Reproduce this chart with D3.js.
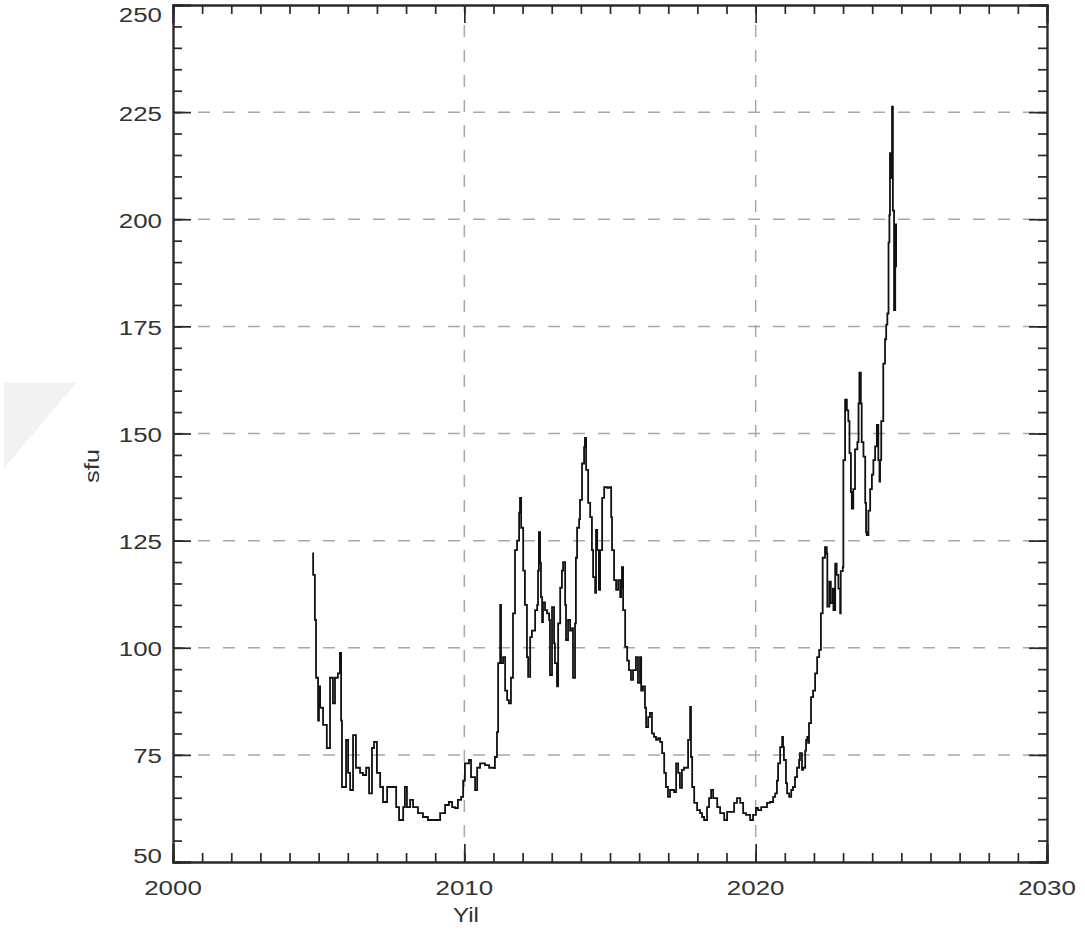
<!DOCTYPE html>
<html><head><meta charset="utf-8">
<script src="https://cdn.jsdelivr.net/npm/d3@7/dist/d3.min.js"></script>
<style>body{margin:0;background:#fff}svg{display:block}</style></head>
<body><svg id="c" width="1085" height="935"></svg>
<script>
const years = [2004.78,2004.81,2004.87,2004.91,2004.98,2005.01,2005.05,2005.15,2005.28,2005.39,2005.49,2005.56,2005.66,2005.73,2005.77,2005.80,2005.94,2006.01,2006.08,2006.18,2006.28,2006.42,2006.52,2006.63,2006.73,2006.83,2006.90,2007.00,2007.11,2007.21,2007.35,2007.48,2007.66,2007.76,2007.90,2007.96,2008.03,2008.14,2008.24,2008.41,2008.58,2008.75,2008.99,2009.17,2009.34,2009.47,2009.58,2009.68,2009.78,2009.89,2009.96,2010.02,2010.16,2010.23,2010.37,2010.44,2010.54,2010.71,2010.85,2011.02,2011.05,2011.12,2011.16,2011.23,2011.26,2011.33,2011.40,2011.47,2011.53,2011.60,2011.67,2011.74,2011.81,2011.88,2011.91,2011.95,2012.02,2012.08,2012.15,2012.19,2012.26,2012.32,2012.43,2012.50,2012.53,2012.56,2012.60,2012.63,2012.67,2012.70,2012.77,2012.84,2012.91,2012.94,2013.01,2013.08,2013.11,2013.18,2013.22,2013.29,2013.35,2013.39,2013.46,2013.49,2013.56,2013.63,2013.70,2013.73,2013.80,2013.83,2013.87,2013.94,2013.97,2014.04,2014.11,2014.14,2014.18,2014.25,2014.32,2014.38,2014.42,2014.49,2014.52,2014.56,2014.62,2014.66,2014.73,2014.80,2014.90,2014.97,2015.04,2015.07,2015.14,2015.21,2015.28,2015.35,2015.38,2015.41,2015.45,2015.52,2015.59,2015.65,2015.72,2015.79,2015.89,2015.96,2016.03,2016.07,2016.13,2016.20,2016.24,2016.31,2016.37,2016.44,2016.51,2016.58,2016.65,2016.72,2016.79,2016.86,2016.92,2016.99,2017.06,2017.13,2017.20,2017.27,2017.34,2017.40,2017.47,2017.54,2017.61,2017.68,2017.75,2017.78,2017.82,2017.89,2017.99,2018.09,2018.16,2018.23,2018.33,2018.40,2018.47,2018.54,2018.68,2018.78,2018.92,2019.02,2019.16,2019.26,2019.36,2019.47,2019.57,2019.67,2019.81,2019.91,2020.01,2020.08,2020.19,2020.29,2020.39,2020.49,2020.60,2020.67,2020.73,2020.77,2020.84,2020.91,2020.94,2020.97,2021.04,2021.08,2021.15,2021.22,2021.28,2021.35,2021.42,2021.49,2021.52,2021.59,2021.63,2021.70,2021.73,2021.77,2021.80,2021.83,2021.90,2021.97,2022.04,2022.11,2022.18,2022.24,2022.30,2022.38,2022.44,2022.46,2022.53,2022.58,2022.65,2022.67,2022.73,2022.78,2022.84,2022.90,2022.92,2022.99,2023.01,2023.07,2023.13,2023.18,2023.22,2023.27,2023.30,2023.35,2023.41,2023.49,2023.53,2023.56,2023.61,2023.64,2023.70,2023.76,2023.79,2023.81,2023.87,2023.93,2023.99,2024.04,2024.10,2024.16,2024.21,2024.25,2024.27,2024.31,2024.35,2024.38,2024.44,2024.48,2024.52,2024.56,2024.59,2024.61,2024.65,2024.68,2024.71,2024.75,2024.79,2024.82];
const sfu = [122,117,106.5,93,83,91,86,82,76.6,93,87,93,94,98.8,83,67.5,78.5,70.8,66.8,79.6,72,70.8,70.3,72,66,76.6,78,70.8,67.5,64,67.5,67.5,62.8,59.8,62.8,67.5,62.8,64.5,62.8,61.4,60.5,59.8,59.8,61.4,63.3,64,62.8,62.6,64.5,65.2,69,73,73.8,69.8,66.8,72,73,72.6,72,71.9,74.5,80.3,96.4,110,96.4,97.8,90,87.8,87,93,108,122.8,125,131.5,135,128,118,110,97.8,93.2,102.5,104,108.8,110,118,127,119.8,111.8,106,110.6,108.8,108,106.5,93.6,109.5,101,96.4,91,105.7,114,118,120,110,101.8,106.5,104,104.6,93,105.7,121,128,130,134.5,143,146.8,149,141.5,133.8,130.5,122.8,116.5,112.8,127.5,122.8,113.5,122.8,135,137.5,137.3,137.5,130.5,122.8,115.8,113.5,115.8,111.8,114,118.8,108.8,100.2,97,94.8,92.5,94.8,97.8,91.8,97.8,90,91,86,81.5,83.8,84.8,80,79.2,78.5,78.9,78,75.4,70.8,67.5,65.2,66.8,66.8,66.3,73,70.8,67.3,71.5,72,72,78.5,86.2,74.5,67.5,63.8,62.1,61.4,60.5,59.8,62.8,64.9,66.8,64.9,62.8,61.4,59.8,61.7,61.7,63.8,64.9,63.8,61.4,61,59.8,61,62.6,62.1,62.8,62.8,63.8,64,65.2,66,69,73,76.8,79.2,76.8,73.8,68.4,66,65.2,66.8,67.5,69.8,72,73.8,75.4,71.5,72,76,78.5,79.2,77.8,82.4,88.5,90,94,97.8,99.5,108,121,123.5,122,109.6,115.4,110.4,113.8,108.8,119.6,117,113.8,108,117.9,118.8,143.8,157.9,155.4,152.9,145.4,136.3,132.5,137,146.3,148,157,164.2,157,148,144.6,133.8,127,126.3,132,137,140.4,143.8,147,152,143.8,138.8,143.8,152.9,152.9,166.3,172,175.4,178,194.6,201,215.4,209.6,226.3,202,178.8,198.8,188.8];
const xMajor = [2000,2010,2020,2030];
const yMajor = [50,75,100,125,150,175,200,225,250];
const xLabel = "Yil", yLabel = "sfu";

const svg = d3.select("#c");
const L=173,R=1047,T=5,B=862;
const x = d3.scaleLinear().domain([2000,2030]).range([L,R]);
const y = d3.scaleLinear().domain([50,250]).range([B,T]);

// watermark
svg.append("polygon").attr("points","4,383 76,383 4,468").attr("fill","#f2f2f2");

// grid
const g = svg.append("g");
g.selectAll("line.gy").data(yMajor.filter(v=>v>50&&v<250)).join("line")
  .attr("x1",L).attr("x2",R).attr("y1",d=>y(d)).attr("y2",d=>y(d))
  .attr("stroke","#a8a8a8").attr("stroke-width",1.5).attr("stroke-dasharray","12,13");
g.selectAll("line.gx").data(xMajor.filter(v=>v>2000&&v<2030)).join("line")
  .attr("x1",d=>x(d)).attr("x2",d=>x(d)).attr("y1",B).attr("y2",T)
  .attr("stroke","#a8a8a8").attr("stroke-width",1.5).attr("stroke-dasharray","12,13");

// axes (ticks inward on all sides)
function ax(gen, tr, vals, size){
  svg.append("g").attr("transform",tr)
    .call(gen.tickValues(vals).tickSize(size).tickFormat(""))
    .call(s=>s.selectAll("line,path").attr("stroke","#2a2a2a").attr("stroke-width",1.7));
}
const xMin = d3.range(2000,2031), yMin = d3.range(50,251,5);
ax(d3.axisBottom(x), `translate(0,${B})`, xMin, -9);
ax(d3.axisBottom(x), `translate(0,${B})`, xMajor, -18);
ax(d3.axisTop(x), `translate(0,${T})`, xMin, -9);
ax(d3.axisTop(x), `translate(0,${T})`, xMajor, -18);
ax(d3.axisLeft(y), `translate(${L},0)`, yMin, -9);
ax(d3.axisLeft(y), `translate(${L},0)`, yMajor, -18);
ax(d3.axisRight(y), `translate(${R},0)`, yMin, -9);
ax(d3.axisRight(y), `translate(${R},0)`, yMajor, -18);
svg.selectAll(".domain").attr("stroke-width",1.9);

// data line
const line = d3.line().x((d,i)=>x(years[i])).y((d,i)=>y(sfu[i])).curve(d3.curveStepAfter);
svg.append("path").attr("d",line(sfu)).attr("fill","none").attr("stroke","#111").attr("stroke-width",1.8);

// labels
const font = "'Liberation Sans', Arial, sans-serif";
const cw = 14.4;
svg.selectAll("text.xl").data(xMajor).join("text")
  .attr("x",d=>x(d)).attr("y",895).attr("text-anchor","middle")
  .attr("font-family",font).attr("font-size",20).attr("fill","#333")
  .attr("textLength",d=>String(d).length*cw).attr("lengthAdjust","spacingAndGlyphs")
  .text(d=>d);
svg.selectAll("text.yl").data(yMajor).join("text")
  .attr("x",162).attr("y",d=>Math.min(863, Math.max(22, y(d)+8.5))).attr("text-anchor","end")
  .attr("font-family",font).attr("font-size",20).attr("fill","#333")
  .attr("textLength",d=>String(d).length*cw).attr("lengthAdjust","spacingAndGlyphs")
  .text(d=>d);
svg.append("text").attr("x",466).attr("y",922).attr("text-anchor","middle")
  .attr("font-family",font).attr("font-size",20).attr("fill","#333")
  .attr("textLength",26).attr("lengthAdjust","spacingAndGlyphs").text(xLabel);
svg.append("text").attr("transform","translate(99,466) rotate(-90)").attr("text-anchor","middle")
  .attr("font-family",font).attr("font-size",20).attr("fill","#333")
  .attr("textLength",34).attr("lengthAdjust","spacingAndGlyphs").text(yLabel);
</script></body></html>
